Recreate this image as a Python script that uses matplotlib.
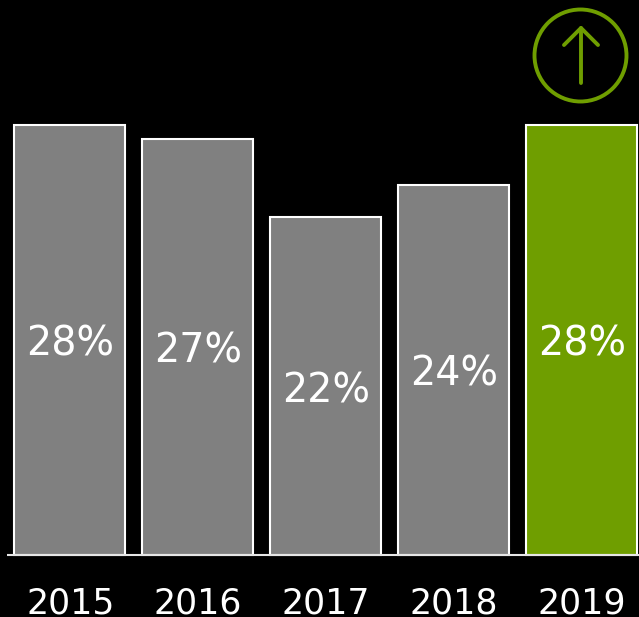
import matplotlib
matplotlib.use("Agg")
import matplotlib.pyplot as plt
from matplotlib.patches import Circle

years = ["2015", "2016", "2017", "2018", "2019"]
values = [28.0, 27.1, 22.0, 24.1, 28.0]
labels = ["28%", "27%", "22%", "24%", "28%"]
colors = ["#808080", "#808080", "#808080", "#808080", "#6f9e00"]

W, H = 639, 617
GREEN = "#6f9e00"
fig = plt.figure(figsize=(W / 100, H / 100), dpi=100, facecolor="black")

# bars: axes spans the plot height, 0 sits on the baseline and 28 on the tallest bar
top, base = 125, 555
ax = fig.add_axes([0, 1 - base / H, 1, (base - top) / H])
ax.set_xlim(-69.5 / 128, (W - 69.5) / 128)
ax.set_ylim(0, 28)
ax.axis("off")

xs = range(len(years))
ax.bar(xs, values, width=0.865, color=colors, edgecolor="white", lw=1.5, clip_on=False)
for x, v, lab, yr in zip(xs, values, labels, years):
    ax.annotate(lab, (x, v / 2), xytext=(0.3, -3.6), textcoords="offset points", color="white",
                fontsize=28.5, ha="center", va="center")
    # years sit on a baseline close to the bottom edge
    ax.annotate(yr, (x, 0), xytext=(0.5, -41.8), textcoords="offset points", color="white",
                fontsize=25, ha="center", va="baseline")

# overlay in pixel coords for baseline and badge
ov = fig.add_axes([0, 0, 1, 1])
ov.set_xlim(0, W)
ov.set_ylim(H, 0)
ov.axis("off")
ov.patch.set_alpha(0)
ov.plot([6.5, 639], [555, 555], color="#e6e6e6", lw=1.5, solid_capstyle="butt")

# arrow badge above the last bar
ov.add_patch(Circle((580.5, 55.5), 46, fill=False, ec=GREEN, lw=2.8))
ov.plot([581, 581], [28, 83], color=GREEN, lw=2.8, solid_capstyle="round")
ov.plot([564, 581, 598], [45, 28, 45], color=GREEN, lw=2.8,
        solid_capstyle="round", solid_joinstyle="round")

fig.savefig("out.png", dpi=100, facecolor="black")
